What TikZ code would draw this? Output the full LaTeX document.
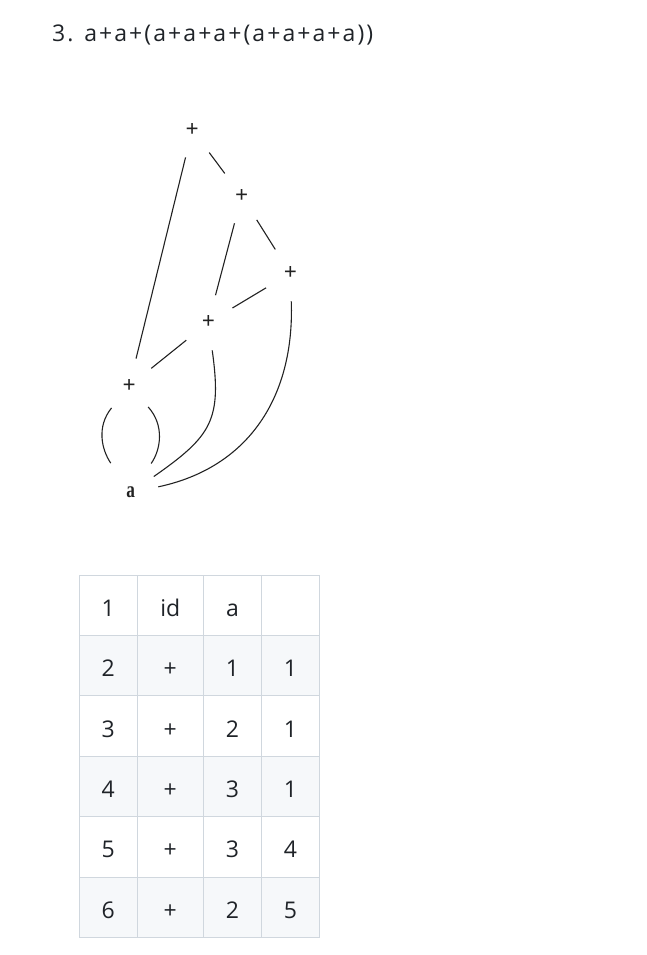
\documentclass[tikz,border=0pt]{standalone}
\usepackage{fontspec}
\newfontfamily\uifont{Open Sans}
\newfontfamily\titlefont[LetterSpace=9]{Open Sans}
\newfontfamily\treefont{Liberation Serif}
\definecolor{textdark}{HTML}{1F2328}
\definecolor{gridline}{HTML}{D0D7DE}
\definecolor{rowshade}{HTML}{F6F8FA}
\definecolor{treeink}{HTML}{222222}
\begin{document}
\begin{tikzpicture}[x=1pt, y=1pt,
    op/.style={circle, inner sep=0pt, minimum size=56pt, text=treeink,
      font=\treefont\bfseries\fontsize{23}{23}\selectfont},
    cell/.style={anchor=base, inner sep=0pt, text=textdark,
      font=\uifont\fontsize{23}{23}\selectfont}]
  \useasboundingbox (0,0) rectangle (646,-955);
  \node[anchor=base west, inner sep=0pt, text=textdark,
    font=\titlefont\fontsize{23}{23}\selectfont] (title) at (52,-42)
    {3. a+a+(a+a+a+(a+a+a+a))};
  \draw
    (130.7,-492.7) node[op] (1){\scalebox{0.75}[1]{a}}
    (129.3,-386) node[op] (2){+}
    (208.3,-322.5) node[op] (3){+}
    (290.3,-273.3) node[op] (4){+}
    (241.7,-196) node[op] (5){+}
    (192.3,-130) node[op] (6){+};
  \begin{scope}[-, treeink, line width=1.1pt]
    \draw (6) to (2);
    \draw (6) to (5);
    \draw (5) to (3);
    \draw (5) to (4);
    \draw (4) to (3);
    \draw (3) to (2);
    \draw[shorten >=7.5pt] (2) to[out=-129, in=124] (1);
    \draw[shorten >=7.5pt] (2) to[out=-48, in=55] (1);
    \draw (3) to[out=-82, in=35, looseness=1.3] (1);
    \draw (4) to[out=-88, in=12, looseness=1.05] (1);
  \end{scope}
  % table
  \fill[rowshade]
    (79.3,-635.4) rectangle (319.3,-695.8)
    (79.3,-756.2) rectangle (319.3,-816.6)
    (79.3,-877) rectangle (319.3,-937.4);
  \begin{scope}[gridline, line width=1pt]
    \draw (79.3,-575) rectangle (319.3,-937.4);
    \draw (137.3,-575) -- (137.3,-937.4);
    \draw (203.3,-575) -- (203.3,-937.4);
    \draw (261.7,-575) -- (261.7,-937.4);
    \draw (79.3,-635.4) -- (319.3,-635.4);
    \draw (79.3,-695.8) -- (319.3,-695.8);
    \draw (79.3,-756.2) -- (319.3,-756.2);
    \draw (79.3,-816.6) -- (319.3,-816.6);
    \draw (79.3,-877) -- (319.3,-877);
  \end{scope}
  \draw
    (108.3,-616.2) node[cell] (t11){1}
    (170.3,-616.2) node[cell] (t12){id}
    (232.5,-616.2) node[cell] (t13){a}
    (108.3,-676.6) node[cell] (t21){2}
    (170.3,-676.6) node[cell] (t22){+}
    (232.5,-676.6) node[cell] (t23){1}
    (290.5,-676.6) node[cell] (t24){1}
    (108.3,-737) node[cell] (t31){3}
    (170.3,-737) node[cell] (t32){+}
    (232.5,-737) node[cell] (t33){2}
    (290.5,-737) node[cell] (t34){1}
    (108.3,-797.4) node[cell] (t41){4}
    (170.3,-797.4) node[cell] (t42){+}
    (232.5,-797.4) node[cell] (t43){3}
    (290.5,-797.4) node[cell] (t44){1}
    (108.3,-857.8) node[cell] (t51){5}
    (170.3,-857.8) node[cell] (t52){+}
    (232.5,-857.8) node[cell] (t53){3}
    (290.5,-857.8) node[cell] (t54){4}
    (108.3,-918.2) node[cell] (t61){6}
    (170.3,-918.2) node[cell] (t62){+}
    (232.5,-918.2) node[cell] (t63){2}
    (290.5,-918.2) node[cell] (t64){5};
\end{tikzpicture}
\end{document}
